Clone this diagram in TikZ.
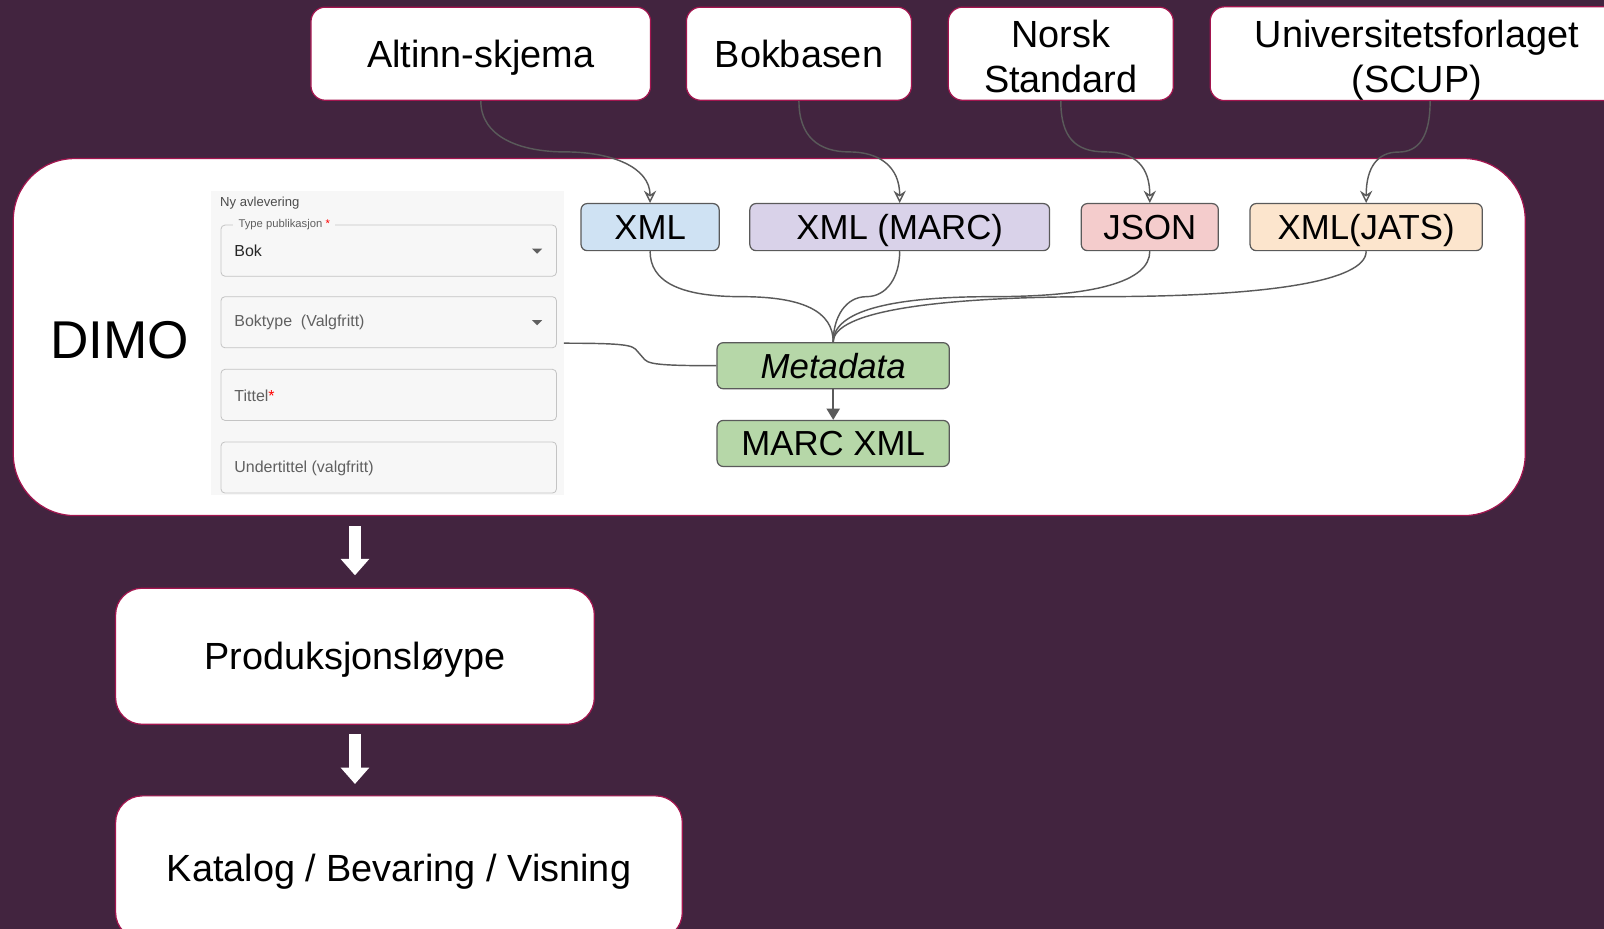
\documentclass[tikz,border=0pt]{standalone}
\usepackage{fontspec}
\setmainfont{Liberation Sans}
\usetikzlibrary{arrows.meta,calc}

\definecolor{plum}{HTML}{42243F}
\definecolor{crimson}{HTML}{A3154F}
\definecolor{edgegray}{HTML}{5A5A5A}
\definecolor{panelgray}{HTML}{F7F7F7}
\definecolor{fieldline}{HTML}{C4C4C4}
\definecolor{hintgray}{HTML}{606060}
\definecolor{xmlblue}{HTML}{CFE2F3}
\definecolor{marcviolet}{HTML}{D9D2E9}
\definecolor{jsonpink}{HTML}{F4CCCC}
\definecolor{jatspeach}{HTML}{FCE5CD}
\definecolor{metagreen}{HTML}{B6D7A8}

% taller first line for two-line boxes
\newcommand{\TopStrut}[1][32pt]{\rule{0pt}{#1}}

% one input field of the form: top edge, node name, text, dropdown (1/0)
\newcommand{\DrawField}[4]{
    \begin{scope}[shift={(0,#1)}]
        \draw[field] (216,0) rectangle (544,50);
        \node[hint] (#2) at (229,25.5) {#3};
        \ifnum#4=1 \fill[hintgray] (520,23) -- (530,23) -- (525,28) -- cycle; \fi
    \end{scope}
}

% curved connector: from, to, horizontal handle, vertical handle
\newcommand{\Swing}[5]{
    \draw[#1] (#2) .. controls +(0,#5) and +({-(#4)},0) .. ($(#2)!0.5!(#3)$)
        .. controls +(#4,0) and +(0,{-(#5)}) .. (#3);
}

\begin{document}
\begin{tikzpicture}[
  x=1pt, y=-1pt,
  source/.style={draw=crimson, line width=1.2pt, fill=white, rounded corners=14pt,
    inner sep=0pt, align=center, text=black, font=\fontsize{37}{44}\selectfont},
  stage/.style={source, rounded corners=26pt, text depth=0pt},
  format/.style={draw=edgegray, line width=1.2pt, rounded corners=6pt, inner sep=0pt,
    minimum height=46pt, text depth=0pt, font=\fontsize{34}{40}\selectfont},
  field/.style={draw=fieldline, line width=0.8pt, rounded corners=4pt},
  hint/.style={anchor=west, inner sep=0pt, text=hintgray, font=\fontsize{15.6}{18}\selectfont},
  conn/.style={draw=edgegray, line width=1.4pt},
  feed/.style={conn, -{Stealth[open, length=12pt, width=12pt, inset=4pt]}},
  bigarrow/.style={draw=white, line width=11pt, -{Triangle[length=16pt, width=27pt]}}
  ]
  \fill[plum] (0,0) rectangle (1568,908);
  \useasboundingbox (0,0) rectangle (1568,908);

  % sources
  \node[source, text depth=0pt, minimum width=332pt, minimum height=91pt] (altinn) at (470,52.5) {Altinn-skjema};
  \node[source, text depth=0pt, minimum width=220pt, minimum height=91pt] (bokbasen) at (781,52.5) {Bokbasen};
  \node[source, minimum width=220pt, minimum height=91pt] (norsk) at (1037,52.5) {\TopStrut Norsk\\Standard};
  \node[source, minimum width=404pt, minimum height=91pt] (scup) at (1385,52.5) {\TopStrut[40pt]Universitetsforlaget\\(SCUP)};
  \coordinate (scupout) at ([xshift=13pt]scup.south);

  % DIMO
  \node[source, rounded corners=60pt, minimum width=1478pt, minimum height=349pt] (dimo) at (752,329.5) {};
  \node[font=\fontsize{52}{60}\selectfont] (dimolabel) at (117,333) {DIMO};

  % form
  \node[fill=panelgray, minimum width=345pt, minimum height=297pt, inner sep=0pt] (form) at (378.5,335.5) {};
  \node[anchor=west, inner sep=0pt, text=black!70, font=\fontsize{12.8}{15}\selectfont] (formtitle) at (215,199) {Ny avlevering};
  \DrawField{220}{kind}{\color{black!85}Bok}{1}
  \node[fill=panelgray, inner xsep=5pt, inner ysep=1pt, anchor=west, text=hintgray,
    font=\fontsize{11}{13}\selectfont] (kindlabel) at (228,220) {Type publikasjon \textcolor{red}{*}};
  \DrawField{290}{booktype}{Boktype\ \ (Valgfritt)}{1}
  \DrawField{361}{title}{Tittel\textcolor{red}{*}}{0}
  \DrawField{432}{subtitle}{Undertittel (valgfritt)}{0}

  % formats
  \node[format, fill=xmlblue, minimum width=135pt] (xml) at (635.5,222) {XML};
  \node[format, fill=marcviolet, minimum width=293pt] (marc) at (879.5,222) {XML (MARC)};
  \node[format, fill=jsonpink, minimum width=134pt] (json) at (1124,222) {JSON};
  \node[format, fill=jatspeach, minimum width=227pt] (jats) at (1335.5,222) {XML(JATS)};
  \node[format, fill=metagreen, minimum width=227pt, minimum height=45pt,
    font=\fontsize{34}{40}\selectfont\itshape] (meta) at (814.5,357.5) {Metadata};
  \node[format, fill=metagreen, minimum width=227pt, minimum height=45pt] (marcxml) at (814.5,433.5) {MARC XML};

  % stages
  \node[stage, minimum width=468pt, minimum height=133pt] (prod) at (347,641.5) {Produksjonsløype};
  \node[stage, minimum width=554pt, minimum height=140pt] (katalog) at (390,848) {Katalog / Bevaring / Visning};

  % connectors
  \Swing{feed}{altinn.south}{xml.north}{45}{35}
  \Swing{feed}{bokbasen.south}{marc.north}{30}{35}
  \Swing{feed}{norsk.south}{json.north}{30}{35}
  \Swing{feed}{scupout}{jats.north}{-20}{35}
  \Swing{conn}{xml.south}{meta.north}{60}{30}
  \Swing{conn}{marc.south}{meta.north}{-20}{25}
  \Swing{conn}{json.south}{meta.north}{-100}{30}
  \Swing{conn}{jats.south}{meta.north}{-160}{30}
  \draw[conn] (form.east) .. controls +(75,0) and +(-8,-8) .. ($(form.east)!0.5!(meta.west)$)
    .. controls +(8,8) and +(-75,0) .. (meta.west);
  \draw[conn, -{Triangle[length=11pt, width=13pt]}] (meta) -- (marcxml);
  \draw[bigarrow, shorten <=10pt, shorten >=12pt] (dimo.south -| prod.north) -- (prod.north);
  \draw[bigarrow, shorten <=9pt, shorten >=11pt] (prod.south) -- (prod.south |- katalog.north);
\end{tikzpicture}
\end{document}
